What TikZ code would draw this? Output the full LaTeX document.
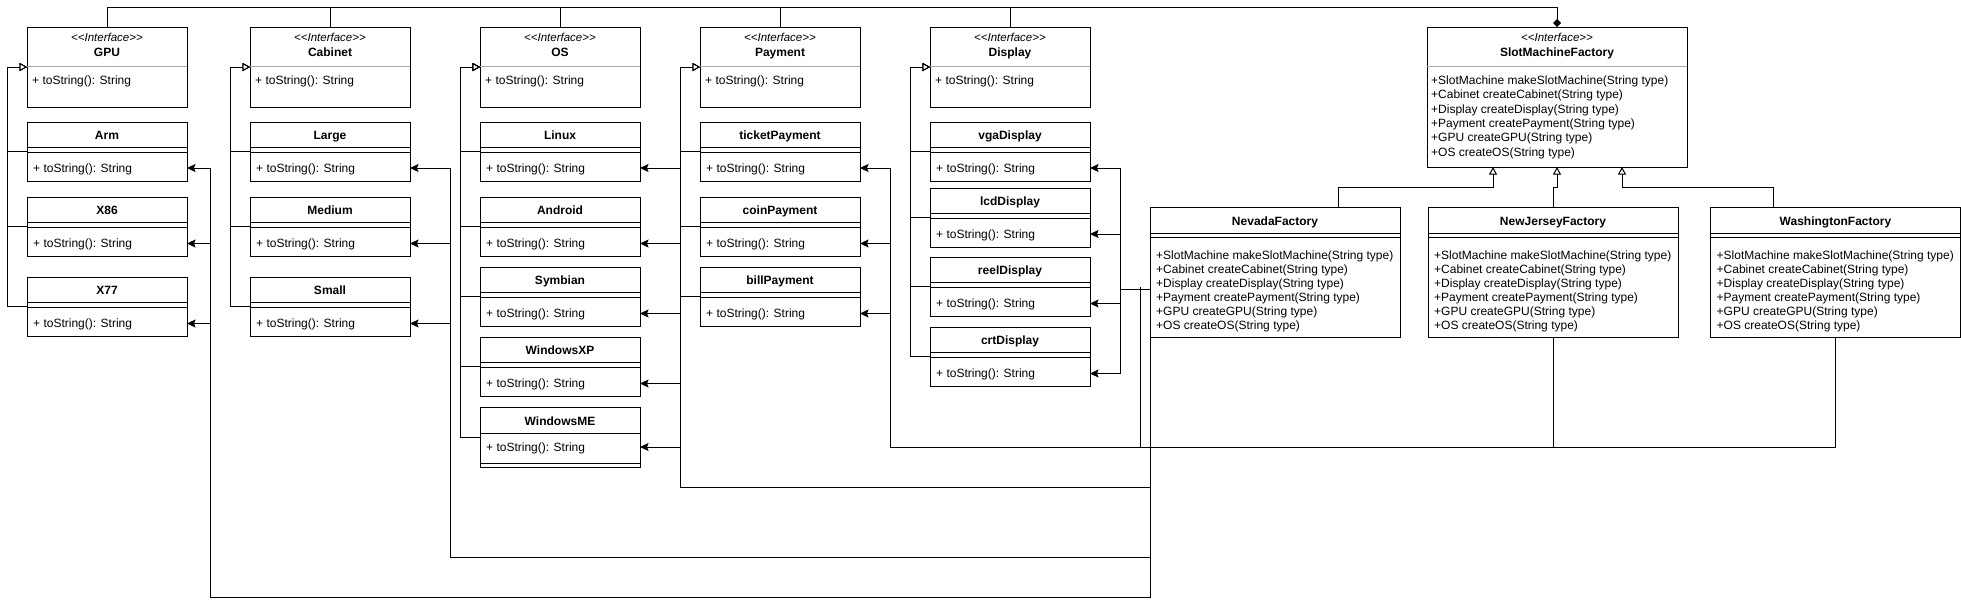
\documentclass[tikz,border=0pt]{standalone}
\usepackage{fontspec}
\setmainfont{Liberation Sans}
\usetikzlibrary{arrows.meta}
\tikzset{
  box/.style={draw, fill=white, line width=1pt, inner sep=0pt, outer sep=0pt, rectangle},
  lbl/.style={inner sep=0pt, anchor=base west, font=\fontsize{12}{14}\selectfont},
  ttl/.style={inner sep=0pt, anchor=base, font=\fontsize{12}{14}\selectfont\bfseries},
  ster/.style={inner sep=0pt, anchor=base, font=\fontsize{11.5}{14}\selectfont\itshape},
  ln/.style={line width=1pt},
  gsep/.style={line width=1pt, draw=gray!70},
  gen/.style={ln, -{Triangle[open,length=7.5pt,width=8pt,fill=white]}},
  crt/.style={ln, -{Stealth[length=8.5pt,width=8pt,inset=1.5pt]}},
  comp/.style={ln, -{Diamond[length=8pt,width=8pt]}},
}
% class box: name, centre x, top y, title
\newcommand\ucls[4]{%
  \node[box, minimum width=160pt, minimum height=59pt] (#1) at (#2,{#3+29.5}) {};
  \draw[ln] ([yshift=-25pt]#1.north west) -- ([yshift=-25pt]#1.north east);
  \draw[ln] ([yshift=-30pt]#1.north west) -- ([yshift=-30pt]#1.north east);
  \node[ttl] (#1t) at ([yshift=-17.3pt]#1.north) {#4};
  \node[lbl] (#1m) at ([xshift=6pt,yshift=-50.3pt]#1.north west) {+ toString(): String};
}
% interface box: name, centre x, title
\newcommand\uint[3]{%
  \node[box, minimum width=160pt, minimum height=80pt] (#1) at (#2,67) {};
  \draw[gsep] ([yshift=-39pt]#1.north west) -- ([yshift=-39pt]#1.north east);
  \node[ster] (#1s) at ([yshift=-14.3pt]#1.north) {<\kern0pt<Interface>\kern0pt>};
  \node[ttl] (#1t) at ([yshift=-29pt]#1.north) {#3};
  \node[lbl] (#1m) at ([xshift=5pt,yshift=-57.3pt]#1.north west) {+ toString(): String};
}
% factory box: name, centre x, title
\newcommand\ufac[3]{%
  \node[box, minimum width=250pt, minimum height=130pt] (#1) at (#2,272) {};
  \draw[ln] ([yshift=-26pt]#1.north west) -- ([yshift=-26pt]#1.north east);
  \draw[ln] ([yshift=-30pt]#1.north west) -- ([yshift=-30pt]#1.north east);
  \node[ttl] (#1t) at ([yshift=-18pt]#1.north) {#3};
  \node[lbl] (#1a) at ([xshift=6pt,yshift=-52.3pt]#1.north west) {+SlotMachine makeSlotMachine(String type)};
  \node[lbl] (#1b) at ([xshift=6pt,yshift=-66.3pt]#1.north west) {+Cabinet createCabinet(String type)};
  \node[lbl] (#1c) at ([xshift=6pt,yshift=-80.3pt]#1.north west) {+Display createDisplay(String type)};
  \node[lbl] (#1d) at ([xshift=6pt,yshift=-94.3pt]#1.north west) {+Payment createPayment(String type)};
  \node[lbl] (#1e) at ([xshift=6pt,yshift=-108.3pt]#1.north west) {+GPU createGPU(String type)};
  \node[lbl] (#1f) at ([xshift=6pt,yshift=-122.3pt]#1.north west) {+OS createOS(String type)};
}
\begin{document}
\begin{tikzpicture}[x=1pt,y=-1pt]
\useasboundingbox[fill=white] (0,0) rectangle (1961,606);

% ---------- interfaces ----------
\uint{gpu}{107}{GPU}
\uint{cab}{330}{Cabinet}
\uint{os}{560}{OS}
\uint{pay}{780}{Payment}
\uint{disp}{1010}{Display}

% SlotMachineFactory
\node[box, minimum width=260pt, minimum height=140pt] (smf) at (1557,97) {};
\draw[gsep] ([yshift=-39pt]smf.north west) -- ([yshift=-39pt]smf.north east);
\node[ster] (smfs) at ([yshift=-14.3pt]smf.north) {<\kern0pt<Interface>\kern0pt>};
\node[ttl] (smft) at ([yshift=-29pt]smf.north) {SlotMachineFactory};
\node[lbl] (smfa) at ([xshift=4pt,yshift=-57.3pt]smf.north west) {+SlotMachine makeSlotMachine(String type)};
\node[lbl] (smfb) at ([xshift=4pt,yshift=-71.6pt]smf.north west) {+Cabinet createCabinet(String type)};
\node[lbl] (smfc) at ([xshift=4pt,yshift=-86pt]smf.north west) {+Display createDisplay(String type)};
\node[lbl] (smfd) at ([xshift=4pt,yshift=-100.3pt]smf.north west) {+Payment createPayment(String type)};
\node[lbl] (smfe) at ([xshift=4pt,yshift=-114.6pt]smf.north west) {+GPU createGPU(String type)};
\node[lbl] (smff) at ([xshift=4pt,yshift=-129pt]smf.north west) {+OS createOS(String type)};

% ---------- concrete classes ----------
\ucls{arm}{107}{122}{Arm}
\ucls{xeightsix}{107}{197}{X86}
\ucls{xseven}{107}{277}{X77}

\ucls{large}{330}{122}{Large}
\ucls{medium}{330}{197}{Medium}
\ucls{small}{330}{277}{Small}

\ucls{linux}{560}{122}{Linux}
\ucls{android}{560}{197}{Android}
\ucls{symbian}{560}{267}{Symbian}
\ucls{winxp}{560}{337}{WindowsXP}
% WindowsME (methods before the empty compartment)
\node[box, minimum width=160pt, minimum height=60pt] (winme) at (560,437) {};
\draw[ln] ([yshift=-26pt]winme.north west) -- ([yshift=-26pt]winme.north east);
\draw[ln] ([yshift=-56pt]winme.north west) -- ([yshift=-56pt]winme.north east);
\node[ttl] (winmet) at ([yshift=-18.3pt]winme.north) {WindowsME};
\node[lbl] (winmem) at ([xshift=6pt,yshift=-44.3pt]winme.north west) {+ toString(): String};

\ucls{ticket}{780}{122}{ticketPayment}
\ucls{coin}{780}{197}{coinPayment}
\ucls{bill}{780}{267}{billPayment}

\ucls{vga}{1010}{122}{vgaDisplay}
\ucls{lcd}{1010}{188}{lcdDisplay}
\ucls{reel}{1010}{257}{reelDisplay}
\ucls{crt}{1010}{327}{crtDisplay}

% ---------- factories ----------
\ufac{nev}{1275}{NevadaFactory}
\ufac{nj}{1553}{NewJerseyFactory}
\ufac{wa}{1835.5}{WashingtonFactory}

% ---------- composition (top line) ----------
\draw[comp] (gpu.north) -- ++(0,-20) -| (smf.north);
\draw[ln] (cab.north) -- ++(0,-20);
\draw[ln] (os.north) -- ++(0,-20);
\draw[ln] (pay.north) -- ++(0,-20);
\draw[ln] (disp.north) -- ++(0,-20);

% ---------- generalisations ----------
\foreach \c/\i in {arm/gpu,xeightsix/gpu,xseven/gpu,
                   large/cab,medium/cab,small/cab,
                   linux/os,android/os,symbian/os,winxp/os,winme/os,
                   ticket/pay,coin/pay,bill/pay,
                   vga/disp,lcd/disp,reel/disp,crt/disp}
  \draw[gen] (\c.west) -- ++(-20,0) |- (\i.west);

\draw[gen] ([xshift=63pt]nev.north) -- ++(0,-20) -| ([xshift=-64pt]smf.south);
\draw[gen] (nj.north) -- ++(0,-20) -| (smf.south);
\draw[gen] ([xshift=-62.5pt]wa.north) -- ++(0,-20) -| ([xshift=65pt]smf.south);

% ---------- creation arrows ----------
\coordinate (gbus) at (210,597);
\coordinate (cbus) at (450,557);
\coordinate (obus) at (680,487);
\coordinate (pbus) at (890,447);
\coordinate (dj) at (1120,289);
\coordinate (dk) at (1140,447);

\draw[ln] (nev.south west) -- (nev.south west |- gbus);
\draw[crt] (nev.south west) |- (gbus) |- ([yshift=-16.5pt]arm.east);
\draw[crt] (gbus) |- ([yshift=-17pt]xeightsix.east);
\draw[crt] (gbus) |- ([yshift=-17pt]xseven.east);

\draw[crt] (nev.south west) |- (cbus) |- ([yshift=-16.5pt]large.east);
\draw[crt] (cbus) |- ([yshift=-17pt]medium.east);
\draw[crt] (cbus) |- ([yshift=-17pt]small.east);

\draw[crt] (nev.south west) |- (obus) |- ([yshift=-16.5pt]linux.east);
\draw[crt] (obus) |- ([yshift=-17pt]android.east);
\draw[crt] (obus) |- ([yshift=-17pt]symbian.east);
\draw[crt] (obus) |- ([yshift=-17pt]winxp.east);
\draw[crt] (obus) |- ([yshift=-10pt]winme.east);

\draw[crt] (wa.south) |- (pbus) |- ([yshift=-16.5pt]ticket.east);
\draw[crt] (pbus) |- ([yshift=-17pt]coin.east);
\draw[crt] (pbus) |- ([yshift=-17pt]bill.east);

\draw[ln] ([yshift=-17pt]nev.west) -- (dj);
\draw[ln] (nj.south) |- (dk) -- ++(0,-160);
\draw[crt] (dj) |- ([yshift=-16.5pt]vga.east);
\draw[crt] (dj) |- ([yshift=-16.5pt]lcd.east);
\draw[crt] (dj) |- ([yshift=-17pt]reel.east);
\draw[crt] (dj) |- ([yshift=-17pt]crt.east);
\end{tikzpicture}
\end{document}
